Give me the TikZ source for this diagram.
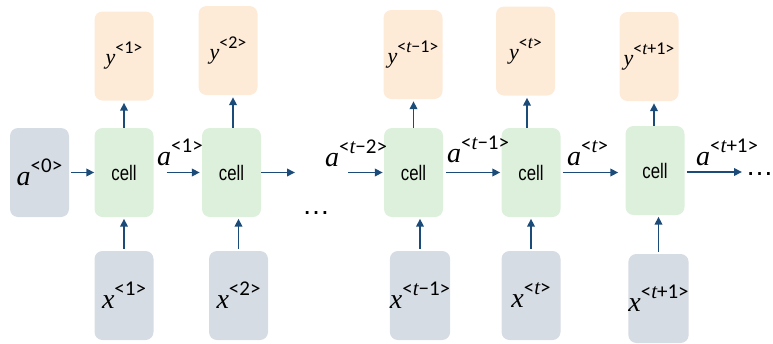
\documentclass[tikz,border=0pt]{standalone}
\usepackage{fontspec}
\usetikzlibrary{arrows.meta}
\setmainfont{Liberation Sans}
\newfontfamily\cellfont{Liberation Sans}[FakeStretch=0.8]
\newfontfamily\letterfont{Liberation Serif}
\newfontfamily\supfont{Carlito}
\definecolor{ingray}{HTML}{D6DCE4}
\definecolor{cellgreen}{HTML}{DDF0DC}
\definecolor{outorange}{HTML}{FDEAD7}
\definecolor{arrowblue}{HTML}{1B4B79}
% italic variable letter
\newcommand\tv{{\letterfont\itshape t}}
% large symbol with superscript (a, x)
\newcommand\biglab[2]{{\fontsize{28}{28}\selectfont\letterfont\itshape #1\raisebox{0.46em}{\fontsize{21}{21}\selectfont\supfont\upshape #2}}}
% smaller symbol with superscript (y)
\newcommand\smalllab[2]{{\fontsize{22}{22}\selectfont\letterfont\itshape #1\raisebox{0.5em}{\fontsize{18}{18}\selectfont\supfont\upshape #2}}}
\begin{document}
\begin{tikzpicture}[x=1pt,y=-1pt,
  box/.style={rounded corners=8pt, minimum width=59pt, minimum height=89pt, inner sep=0pt},
  cellbox/.style={box, fill=cellgreen, font=\cellfont\fontsize{21}{21}\selectfont},
  inbox/.style={box, fill=ingray},
  outbox/.style={box, fill=outorange},
  arr/.style={draw=arrowblue, line width=1.9pt, -{Triangle[length=8pt,width=7.5pt]}},
  lbl/.style={inner sep=0pt, anchor=base west},
  dots/.style={inner sep=0pt, anchor=base, font=\fontsize{28}{28}\selectfont}]
\useasboundingbox (0,0) rectangle (773,343);

% initial state
\node[inbox] (a0) at (39.5,172.5) {\biglab{a}{<0>}};

% recurrent cells
\node[cellbox] (c1) at (124,172.5) {cell};
\node[cellbox] (c2) at (231.5,172.5) {cell};
\node[cellbox] (c3) at (413.5,172.5) {cell};
\node[cellbox] (c4) at (531,172.5) {cell};
\node[cellbox] (c5) at (655,170.5) {cell};

% outputs
\node[outbox] (y1) at (124,56) {\smalllab{y}{<1>}};
\node[outbox] (y2) at (228,50.5) {\smalllab{y}{<2>}};
\node[outbox] (y3) at (413,54.5) {\smalllab{y}{<\tv−1>}};
\node[outbox] (y4) at (525.5,51) {\smalllab{y}{<\tv>}};
\node[outbox] (y5) at (649,56.5) {\smalllab{y}{<\tv+1>}};

% inputs
\node[inbox] (x1) at (124,295.5) {\biglab{x}{<1>}};
\node[inbox] (x2) at (238.5,295.5) {\biglab{x}{<2>}};
\node[inbox] (x3) at (420,295.5) {\biglab{x}{<\tv−1>}};
\node[inbox] (x4) at (531,295.5) {\biglab{x}{<\tv>}};
\node[inbox] (x5) at (658.5,298.5) {\biglab{x}{<\tv+1>}};

% hidden-state labels
\node[lbl] (h1) at (157,165) {\biglab{a}{<1>}};
\node[lbl] (h2) at (325,166) {\biglab{a}{<\tv−2>}};
\node[lbl] (h3) at (447,162) {\biglab{a}{<\tv−1>}};
\node[lbl] (h4) at (567,165) {\biglab{a}{<\tv>}};
\node[lbl] (h5) at (696,165) {\biglab{a}{<\tv+1>}};

% ellipses
\node[dots] (dl) at (316,214) {…};
\node[dots] (dr) at (759.5,175) {…};

% free ends of the chain
\coordinate (o2) at (295,172.5);
\coordinate (i3) at (348,172.5);
\coordinate (o5) at (742,172);

% horizontal state flow
\draw[arr, shorten <=2pt] (a0.east) -- (c1.west);
\draw[arr, shorten <=13pt, shorten >=2pt] (c1.east) -- (c2.west);
\draw[arr] (c2.east) -- (o2);
\draw[arr, shorten >=1pt] (i3) -- (c3.west);
\draw[arr, shorten <=3pt, shorten >=1pt] (c3.east) -- (c4.west);
\draw[arr, shorten <=2pt, shorten >=7pt] (c4.east) -- (c4.east -| c5.west);
\draw[arr, shorten <=2pt] (c5.east |- o5) -- (o5);

% cell to output
\draw[arr, shorten >=2pt] (c1.north) -- (c1.north |- y1.south);
\draw[arr, shorten >=2pt] ([xshift=1.5pt]c2.north) -- ([xshift=1.5pt]c2.north |- y2.south);
\draw[arr, shorten >=2pt] (c3.north) -- (c3.north |- y3.south);
\draw[arr, shorten >=2pt] ([xshift=-4pt]c4.north) -- ([xshift=-4pt]c4.north |- y4.south);
\draw[arr, shorten >=2pt] ([xshift=-1pt]c5.north) -- ([xshift=-1pt]c5.north |- y5.south);

% input to cell
\draw[arr, shorten <=2pt, shorten >=1.5pt] (x1.north) -- (x1.north |- c1.south);
\draw[arr, shorten <=2pt, shorten >=1.5pt] (x2.north) -- (x2.north |- c2.south);
\draw[arr, shorten <=2pt, shorten >=1.5pt] (x3.north) -- (x3.north |- c3.south);
\draw[arr, shorten <=2pt, shorten >=1.5pt] (x4.north) -- (x4.north |- c4.south);
\draw[arr, shorten <=2pt, shorten >=1.5pt] (x5.north) -- (x5.north |- c5.south);
\end{tikzpicture}
\end{document}
